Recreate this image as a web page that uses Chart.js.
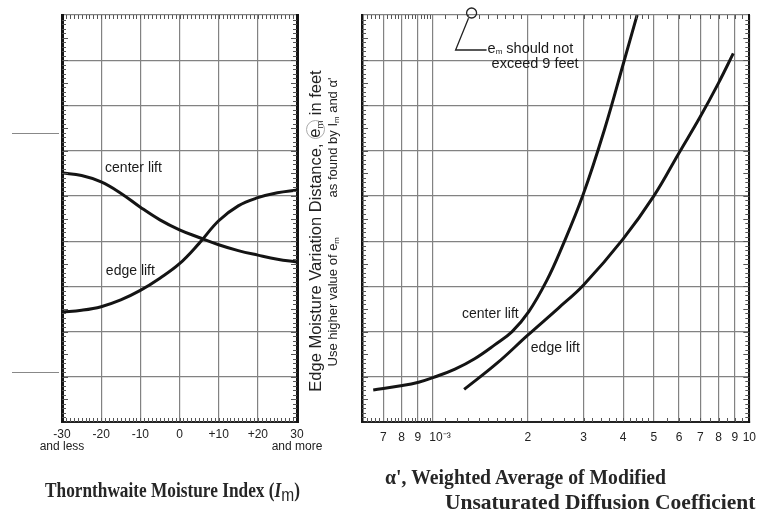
<!DOCTYPE html>
<html>
<head>
<meta charset="utf-8">
<script src="https://cdn.jsdelivr.net/npm/chart.js@4.4.1/dist/chart.umd.min.js"></script>
<style>
  html, body { margin: 0; padding: 0; background: #fff; }
  #wrap { position: relative; width: 764px; height: 517px; overflow: hidden; background: #fff; }
  #wrap canvas { position: absolute; left: 0; top: 0; }
  .rot { position: absolute; transform: rotate(-90deg); text-align: center; white-space: pre; color: #222;
         font-family: "Liberation Sans", Arial, sans-serif; }
  .rot sub { font-size: 0.6em; vertical-align: -0.3em; line-height: 0; }
  .ring { display: inline-block; box-sizing: border-box; width: 19px; height: 19px; line-height: 15px; text-align: center;
          border: 1.5px solid #aaa; border-radius: 50%; vertical-align: middle; margin-top: -3px; }
  .ttl { position: absolute; font-family: "Liberation Serif", "Times New Roman", serif; font-weight: bold;
         font-size: 21px; line-height: 24px; color: #262626; white-space: nowrap; transform-origin: 0 50%; }
  .ttl sub { font-family: "Liberation Sans", Arial, sans-serif; font-weight: normal; font-size: 0.9em; vertical-align: -0.2em; line-height: 0; }
</style>
</head>
<body>
<div id="wrap">
  <canvas id="left" width="764" height="517"></canvas>
  <canvas id="right" width="764" height="517"></canvas>
  <div class="rot" style="left:145px; top:221px; width:340px; height:20px; line-height:20px; font-size:16.5px;">Edge Moisture Variation Distance, <span class="ring">e<sub>m</sub></span> in feet</div>
  <div class="rot" style="left:178px; top:214px; width:310px; height:16px; line-height:16px; font-size:13px;">Use higher value of e<sub>m</sub>           as found by I<sub>m</sub> and &alpha;'</div>
  <div class="ttl" id="t1" data-x="45" data-y="490" data-w="255">Thornthwaite Moisture Index (<i>I</i><sub>m</sub>)</div>
  <div class="ttl" id="t2" data-x="385" data-y="477" data-w="281">&alpha;', Weighted Average of Modified</div>
  <div class="ttl" id="t3" data-x="445" data-y="502" data-w="310">Unsaturated Diffusion Coefficient</div>
</div>
<script>
// Left panel: Thornthwaite moisture index vs e_m
var imTicks = [-30, -20, -10, 0, 10, 20, 30];
var imTickLabels = [['-30', 'and less'], '-20', '-10', '0', '+10', '+20', ['30', 'and more']];
var imValues = [-30, -25, -20, -15, -10, -5, 0, 5, 10, 15, 20, 25, 30];
var imCenterLift = [5.51, 5.45, 5.31, 5.06, 4.75, 4.47, 4.25, 4.08, 3.92, 3.79, 3.69, 3.60, 3.54];
var imEdgeLift = [2.43, 2.47, 2.55, 2.70, 2.91, 3.18, 3.50, 3.95, 4.45, 4.78, 4.96, 5.07, 5.13];

// Right panel: alpha' (in units of 10^-3) vs e_m
var alphaTicks = [0.7, 0.8, 0.9, 1, 2, 3, 4, 5, 6, 7, 8, 9, 10];
var alphaTickLabels = ['7', '8', '9', ' \u200310\u207B\u00B3', '2', '3', '4', '5', '6', '7', '8', '9', '10'];
var alphaCenter = [0.651, 0.795, 0.905, 1.022, 1.179, 1.36, 1.569, 1.785, 2.015, 2.293, 2.551, 2.987, 3.496, 4.033, 4.426];
var emCenter = [0.71, 0.80, 0.88, 1.0, 1.17, 1.4, 1.7, 2.0, 2.44, 3.12, 3.83, 5.02, 6.48, 8.0, 9.0];
var alphaEdge = [1.26, 1.6, 2.0, 2.5, 3.0, 4.0, 5.0, 6.0, 7.0, 8.0, 8.9];
var emEdge = [0.72, 1.3, 1.92, 2.52, 3.03, 4.05, 5.0, 5.95, 6.75, 7.5, 8.15];

var emTicks = [0, 1, 2, 3, 4, 5, 6, 7, 8, 9];

Chart.defaults.font.family = '"Liberation Sans", Arial, sans-serif';
Chart.defaults.color = '#222';

function pts(xs, ys) { return xs.map(function(x, i) { return { x: x, y: ys[i] }; }); }

var GRID = '#828282';
var INK = '#141414';

// minor ruler ticks along the inside of the frame, plus text notes
var frameTicks = {
  id: 'frameTicks',
  afterDraw: function(chart, args, opts) {
    var ctx = chart.ctx, a = chart.chartArea, xs = chart.scales.x, ys = chart.scales.y;
    ctx.save();
    ctx.strokeStyle = '#555';
    ctx.lineWidth = 1;
    ctx.beginPath();
    (opts.yMinor || []).forEach(function(v) {
      var y = Math.round(ys.getPixelForValue(v)) + 0.5;
      var len = Math.abs(v * 2 - Math.round(v * 2)) < 1e-6 ? 6 : 4;
      ctx.moveTo(a.left, y); ctx.lineTo(a.left + len, y);
      ctx.moveTo(a.right, y); ctx.lineTo(a.right - len, y);
    });
    (opts.xMinor || []).forEach(function(v) {
      var x = Math.round(xs.getPixelForValue(v)) + 0.5;
      ctx.moveTo(x, a.top); ctx.lineTo(x, a.top + 4);
      ctx.moveTo(x, a.bottom); ctx.lineTo(x, a.bottom - 4);
    });
    ctx.stroke();
    // stray marks to the left of the frame
    ctx.strokeStyle = '#888';
    ctx.beginPath();
    (opts.stubs || []).forEach(function(v) {
      var y = Math.round(ys.getPixelForValue(v)) + 0.5;
      ctx.moveTo(a.left - 50, y); ctx.lineTo(a.left - 3, y);
    });
    ctx.stroke();
    ctx.restore();
  },
  afterDatasetsDraw: function(chart, args, opts) {
    var ctx = chart.ctx, xs = chart.scales.x, ys = chart.scales.y;
    ctx.save();
    ctx.fillStyle = '#1a1a1a';
    ctx.font = '14px "Liberation Sans", Arial, sans-serif';
    ctx.textBaseline = 'middle';
    (opts.notes || []).forEach(function(n) {
      ctx.fillText(n.text, xs.getPixelForValue(n.x), ys.getPixelForValue(n.y));
    });
    if (opts.limit) {
      var px = xs.getPixelForValue(opts.limit.x), py = ys.getPixelForValue(opts.limit.y);
      ctx.strokeStyle = '#222';
      ctx.lineWidth = 1.3;
      ctx.beginPath();
      ctx.arc(px, py - 2, 5, 0, Math.PI * 2);
      ctx.stroke();
      ctx.beginPath();
      ctx.moveTo(px - 3, py + 3);
      ctx.lineTo(px - 16, py + 35);
      ctx.lineTo(px + 15, py + 35);
      ctx.stroke();
      var tx = px + 16, ty = py + 34;
      ctx.font = '14.5px "Liberation Sans", Arial, sans-serif';
      ctx.fillText('e', tx, ty);
      var w = ctx.measureText('e').width;
      ctx.font = '8px "Liberation Sans", Arial, sans-serif';
      ctx.fillText('m', tx + w, ty + 3);
      var w2 = ctx.measureText('m').width;
      ctx.font = '14.5px "Liberation Sans", Arial, sans-serif';
      ctx.fillText(' should not', tx + w + w2, ty);
      ctx.fillText('exceed 9 feet', tx + 4, ty + 15);
    }
    ctx.restore();
  }
};

var emMinor = [];
for (var k = 1; k < 90; k++) emMinor.push(k / 10);
var imMinor = [];
for (var m = -29; m < 30; m++) imMinor.push(m);
var alphaMinor = [0.62, 0.64, 0.66, 0.68, 0.72, 0.74, 0.76, 0.78, 0.82, 0.84, 0.86, 0.88, 0.92, 0.94, 0.96, 0.98];
for (var q = 11; q < 20; q++) alphaMinor.push(q / 10);
for (var r = 22; r < 50; r += 2) alphaMinor.push(r / 10);
for (var s = 55; s < 100; s += 5) alphaMinor.push(s / 10);

function lineSet(data) {
  return {
    data: data, showLine: true, borderColor: INK, borderWidth: 3, pointRadius: 0,
    fill: false, tension: 0.4
  };
}

new Chart(document.getElementById('left'), {
  type: 'scatter',
  data: { datasets: [lineSet(pts(imValues, imCenterLift)), lineSet(pts(imValues, imEdgeLift))] },
  options: {
    responsive: false, animation: false,
    layout: { padding: { left: 62, right: 764 - 297, top: 15, bottom: 0 } },
    plugins: {
      legend: { display: false }, tooltip: { enabled: false },
      frameTicks: {
        yMinor: emMinor, xMinor: imMinor, stubs: [6.4, 1.1],
        notes: [{ text: 'center lift', x: -19, y: 5.62 }, { text: 'edge lift', x: -18.8, y: 3.34 }]
      }
    },
    scales: {
      x: {
        type: 'linear', min: -30, max: 30,
        afterBuildTicks: function(sc) { sc.ticks = imTicks.map(function(v) { return { value: v }; }); },
        afterFit: function(sc) { sc.height = 95; },
        ticks: {
          autoSkip: false, maxRotation: 0, padding: 7, color: '#222',
          font: { size: 12, lineHeight: 1.0 },
          callback: function(v, i) { return imTickLabels[i]; }
        },
        grid: { color: GRID, lineWidth: 1.2, drawTicks: false },
        border: { color: '#222', width: 2 }
      },
      y: {
        min: 0, max: 9,
        afterBuildTicks: function(sc) { sc.ticks = emTicks.map(function(v) { return { value: v }; }); },
        afterFit: function(sc) { sc.width = 0; },
        ticks: { display: false },
        grid: { color: GRID, lineWidth: 1.2, drawTicks: false },
        border: { color: INK, width: 3 }
      },
      y2: {
        position: 'right', min: 0, max: 9,
        afterFit: function(sc) { sc.width = 0; },
        ticks: { display: false },
        grid: { drawOnChartArea: false, drawTicks: false },
        border: { color: INK, width: 3 }
      }
    }
  },
  plugins: [frameTicks]
});

new Chart(document.getElementById('right'), {
  type: 'scatter',
  data: { datasets: [lineSet(pts(alphaCenter, emCenter)), lineSet(pts(alphaEdge, emEdge))] },
  options: {
    responsive: false, animation: false,
    layout: { padding: { left: 362, right: 764 - 754, top: 15, bottom: 0 } },
    plugins: {
      legend: { display: false }, tooltip: { enabled: false },
      frameTicks: {
        yMinor: emMinor, xMinor: alphaMinor,
        notes: [{ text: 'center lift', x: 1.24, y: 2.39 }, { text: 'edge lift', x: 2.045, y: 1.64 }],
        limit: { x: 1.33, y: 9 }
      }
    },
    scales: {
      x: {
        type: 'logarithmic', min: 0.606, max: 10,
        afterBuildTicks: function(sc) { sc.ticks = alphaTicks.map(function(v) { return { value: v }; }); },
        afterFit: function(sc) { sc.height = 95; },
        ticks: {
          autoSkip: false, maxRotation: 0, padding: 8, color: '#222', font: { size: 12 },
          callback: function(v, i) { return alphaTickLabels[i]; }
        },
        grid: { color: GRID, lineWidth: 1.2, drawTicks: false },
        border: { color: '#222', width: 2 }
      },
      y: {
        min: 0, max: 9,
        afterBuildTicks: function(sc) { sc.ticks = emTicks.map(function(v) { return { value: v }; }); },
        afterFit: function(sc) { sc.width = 0; },
        ticks: {
          padding: 7, color: '#222', font: { size: 12 },
          callback: function(v) { return v === 0 ? '' : String(v); }
        },
        grid: { color: GRID, lineWidth: 1.2, drawTicks: false },
        border: { color: INK, width: 2.5 }
      },
      y2: {
        position: 'right', min: 0, max: 9,
        afterFit: function(sc) { sc.width = 0; },
        ticks: { display: false },
        grid: { drawOnChartArea: false, drawTicks: false },
        border: { color: INK, width: 2 }
      }
    }
  },
  plugins: [frameTicks]
});

// squeeze the serif titles to the width they take in the scan
['t1', 't2', 't3'].forEach(function(id) {
  var el = document.getElementById(id);
  var w = el.offsetWidth, h = el.offsetHeight;
  el.style.left = el.dataset.x + 'px';
  el.style.top = (el.dataset.y - h / 2) + 'px';
  el.style.transform = 'scaleX(' + (el.dataset.w / w) + ')';
});
</script>
</body>
</html>
